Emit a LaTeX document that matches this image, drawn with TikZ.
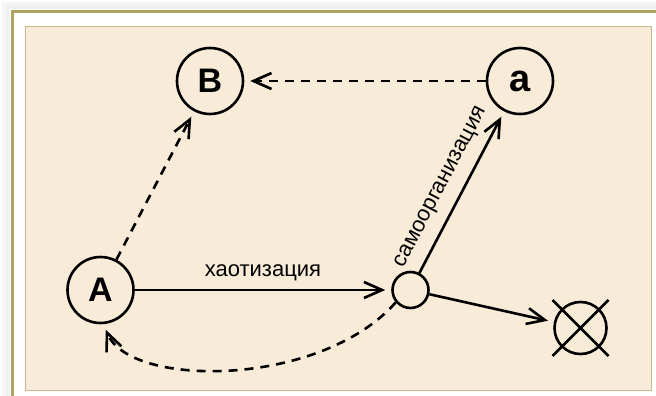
\documentclass[tikz,border=0pt]{standalone}
\usepackage{fontspec}
\setmainfont{Liberation Sans}
\usetikzlibrary{arrows.meta}
\definecolor{frameol}{RGB}{175,163,99}
\definecolor{innerbd}{RGB}{200,186,140}
\definecolor{paper}{RGB}{248,235,216}
\tikzset{
  circ/.style={circle,draw=black,line width=2.6pt,minimum size=66pt,inner sep=0pt,font=\fontsize{34}{34}\selectfont\bfseries},
  smallc/.style={circle,draw=black,line width=2.6pt,minimum size=36pt,inner sep=0pt},
  tip/.style={-{Straight Barb[length=18pt,width=16pt,line width=2.6pt]}},
  conn/.style={line width=2.6pt,tip,shorten >=6pt},
  dconn/.style={conn,dash pattern=on 9pt off 7pt},
  lbl/.style={font=\fontsize{22}{22}\selectfont}
}
\begin{document}
\begin{tikzpicture}[x=1pt,y=-1pt]
\useasboundingbox (0,0) rectangle (656,396);
\clip (0,0) rectangle (656,396);
\fill[white] (0,0) rectangle (656,396);
% soft shadow
\fill[black!4] (2,2) rectangle (700,450);
\fill[black!6] (6,5) rectangle (700,450);
\fill[white] (10,9) rectangle (700,450);
% outer frame
\draw[frameol,line width=3.8pt] (12.5,11.5) rectangle (700,450);
% inner panel
\draw[innerbd,fill=paper,line width=1.4pt] (25.5,26.5) rectangle (651.5,390.5);

\node[circ] (B) at (210,81) {B};
\node[circ,font=\fontsize{38}{38}\selectfont\bfseries] (a) at (520,81) {a};
\node[circ] (A) at (100.5,290) {A};
\node[smallc] (s) at (410.5,290) {};
\node[circle,draw=black,line width=2.6pt,minimum size=52pt,inner sep=0pt] (x) at (580.5,328) {};
\draw[line width=2.6pt] ([shift={(-28,-28)}]x.center) -- ([shift={(28,28)}]x.center);
\draw[line width=2.6pt] ([shift={(28,-28)}]x.center) -- ([shift={(-28,28)}]x.center);

\draw[conn] (A) -- node[lbl,above=4pt] {хаотизация} (s);
\draw[conn] (s) -- node[lbl,sloped,above=7pt,pos=0.47] {самоорганизация} (a);
\draw[conn] (s) -- (x);
\draw[dconn] (a) -- (B);
\draw[dconn] (A) -- (B);
\draw[dconn] (s.220) .. controls (320,388) and (130,388) .. (A.275);
\end{tikzpicture}
\end{document}
